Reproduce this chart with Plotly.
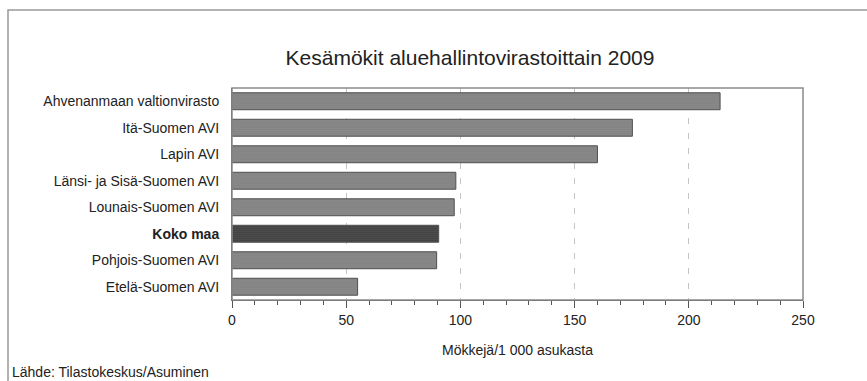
import plotly.graph_objects as go

categories = ["Ahvenanmaan valtionvirasto", "Itä-Suomen AVI", "Lapin AVI",
              "Länsi- ja Sisä-Suomen AVI", "Lounais-Suomen AVI", "Koko maa",
              "Pohjois-Suomen AVI", "Etelä-Suomen AVI"]
values = [213.7, 175.3, 160, 98, 97.3, 90.5, 89.6, 55]
highlight = "Koko maa"
x_ticks = [0, 50, 100, 150, 200, 250]

colors = ["#303030" if c == highlight else "#8e8e8e" for c in categories]
fgcolors = ["#404040" if c == highlight else "#7a7a7a" for c in categories]
ticklabels = ["<b>%s</b>" % c if c == highlight else c for c in categories]

fig = go.Figure()
fig.add_trace(go.Bar(
    y=categories, x=values, orientation="h",
    marker=dict(color=colors, line=dict(color="#505050", width=1),
                pattern=dict(shape=".", size=2, solidity=0.3, fgcolor=fgcolors)),
    width=0.64, showlegend=False, hoverinfo="x+y",
))

L, R, T, B = 232, 64, 88, 81
W, H = 867, 381
pw, ph = W - L - R, H - T - B

fig.update_layout(
    width=W, height=H,
    margin=dict(l=L, r=R, t=T, b=B),
    paper_bgcolor="white", plot_bgcolor="white",
    font=dict(family="Liberation Sans, Arial, sans-serif", size=14, color="#222"),
    title=dict(text="Kesämökit aluehallintovirastoittain 2009", x=470 / W, xanchor="center",
               y=1 - 58 / H, yanchor="middle",
               font=dict(size=21, color="#222")),
    xaxis=dict(range=[0, 250], tickvals=x_ticks, showgrid=True, gridcolor="#c4c4c4",
               griddash="6px,9px", gridwidth=1, zeroline=False,
               showline=True, linecolor="#555", linewidth=1, mirror=False,
               ticks="outside", ticklen=7, tickcolor="#555",
               minor=dict(dtick=10, ticks="outside", ticklen=4, tickcolor="#555", showgrid=False),
               tickfont=dict(size=14, color="#222"),
               title=dict(text="Mökkejä/1 000 asukasta", font=dict(size=14, color="#222"), standoff=18),
               fixedrange=True),
    yaxis=dict(categoryorder="array", categoryarray=categories,
               tickvals=categories, ticktext=ticklabels,
               autorange="reversed", showgrid=False, zeroline=False,
               showline=True, linecolor="#555", linewidth=1,
               ticks="", ticklabelstandoff=9, tickfont=dict(size=14, color="#222"),
               fixedrange=True),
)

# plot area frame
fig.add_shape(type="rect", xref="paper", yref="paper", x0=0, x1=1, y0=0, y1=1,
              line=dict(color="#8a8a8a", width=1.5), layer="above")
# outer chart frame (top and left visible)
fig.add_shape(type="rect", xref="paper", yref="paper",
              x0=(8 - L) / pw, x1=(900 - L) / pw,
              y0=(H - B - 420) / ph, y1=(H - B - 10) / ph,
              line=dict(color="#999", width=1.5), layer="below")

fig.add_annotation(text="Lähde: Tilastokeskus/Asuminen", xref="paper", yref="paper",
                   x=(10 - L) / pw, y=(H - B - 372) / ph, xanchor="left", yanchor="middle",
                   showarrow=False, font=dict(size=14, color="#222"))

fig.write_html("out.html", config={"displayModeBar": False},
               post_script="document.body.style.margin='0';")
